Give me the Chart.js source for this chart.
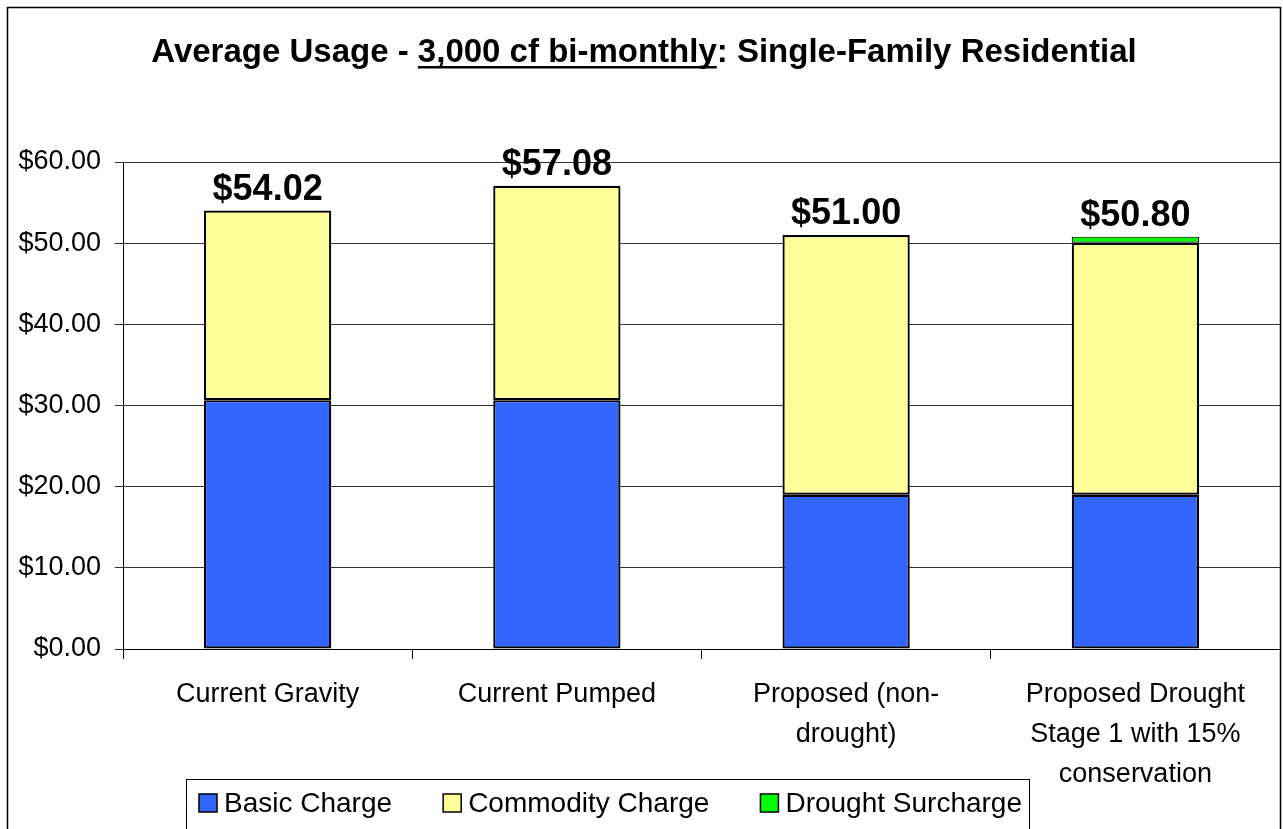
<!DOCTYPE html>
<html>
<head>
<meta charset="utf-8">
<script src="https://cdn.jsdelivr.net/npm/chart.js@4/dist/chart.umd.min.js"></script>
<style>
  body { margin: 0; background: #fff; }
  canvas { display: block; }
</style>
</head>
<body>
<canvas id="chart" width="1283" height="829"></canvas>
<script>
// categories and series
const categories = [
  ['Current Gravity'],
  ['Current Pumped'],
  ['Proposed (non-', 'drought)'],
  ['Proposed Drought', 'Stage 1 with 15%', 'conservation']
];
const basicCharge = [30.66, 30.66, 19.00, 19.00];
const commodityCharge = [23.36, 26.42, 32.00, 31.05];
const droughtSurcharge = [0, 0, 0, 0.75];
const yTicks = [0, 10, 20, 30, 40, 50, 60];

const FONT = 'Arial, "Liberation Sans", sans-serif';

// frame, title with underlined part, custom legend box
const decor = {
  id: 'decor',
  beforeDraw(chart) {
    const ctx = chart.ctx;
    ctx.save();
    ctx.fillStyle = '#fff';
    ctx.fillRect(0, 0, chart.width, chart.height);
    ctx.strokeStyle = '#000';
    ctx.lineWidth = 1.5;
    ctx.strokeRect(7.5, 7.5, 1273, 900);
    ctx.restore();
  },
  afterDraw(chart) {
    const ctx = chart.ctx;
    ctx.save();
    // title
    const parts = ['Average Usage - ', '3,000 cf bi-monthly', ': Single-Family Residential'];
    ctx.font = 'bold 33px ' + FONT;
    ctx.fillStyle = '#000';
    ctx.textBaseline = 'alphabetic';
    const widths = parts.map(p => ctx.measureText(p).width);
    const total = widths.reduce((a, b) => a + b, 0);
    let x = 644 - total / 2;
    const base = 62;
    parts.forEach((p, i) => {
      ctx.fillText(p, x, base);
      if (i === 1) {
        ctx.fillRect(x, base + 4, widths[i], 2.5);
      }
      x += widths[i];
    });

    // legend: items spread between 199 and 1022
    ctx.strokeStyle = '#000';
    ctx.lineWidth = 1;
    ctx.strokeRect(186.5, 779.5, 843, 80);
    ctx.font = '28px ' + FONT;
    ctx.textBaseline = 'middle';
    const dsets = chart.data.datasets;
    const textW = dsets.map(ds => ctx.measureText(ds.label).width);
    const used = textW.reduce((a, b) => a + b, 0) + dsets.length * 25;
    const gap = (1022 - 199 - used) / (dsets.length - 1);
    let lx = 199;
    const ly = 803;
    dsets.forEach((ds, i) => {
      ctx.fillStyle = ds.backgroundColor;
      ctx.fillRect(lx, ly - 9, 18, 18);
      ctx.lineWidth = 1.5;
      ctx.strokeRect(lx, ly - 9, 18, 18);
      ctx.fillStyle = '#000';
      ctx.fillText(ds.label, lx + 25, ly + 1);
      lx += 25 + textW[i] + gap;
    });

    // totals above bars
    const yScale = chart.scales.y;
    const meta = chart.getDatasetMeta(0);
    ctx.font = 'bold 36px ' + FONT;
    ctx.textAlign = 'center';
    ctx.textBaseline = 'alphabetic';
    categories.forEach((c, i) => {
      const sum = basicCharge[i] + commodityCharge[i] + droughtSurcharge[i];
      const px = meta.data[i].x;
      const py = yScale.getPixelForValue(sum);
      ctx.fillText('$' + sum.toFixed(2), px, py - 11);
    });
    ctx.restore();
  }
};

new Chart(document.getElementById('chart'), {
  type: 'bar',
  data: {
    labels: categories,
    datasets: [
      { label: 'Basic Charge', data: basicCharge, backgroundColor: '#3366FF' },
      { label: 'Commodity Charge', data: commodityCharge, backgroundColor: '#FFFF99' },
      { label: 'Drought Surcharge', data: droughtSurcharge, backgroundColor: '#00FF00', borderWidth: 1.2 }
    ]
  },
  options: {
    responsive: false,
    animation: false,
    devicePixelRatio: 1,
    layout: { padding: { left: 0, top: 162, right: 3, bottom: 0 } },
    datasets: {
      bar: {
        borderColor: '#000',
        borderWidth: 2.2,
        borderSkipped: false,
        categoryPercentage: 1,
        barPercentage: 0.44
      }
    },
    plugins: {
      legend: { display: false },
      title: { display: false },
      tooltip: { enabled: false }
    },
    scales: {
      x: {
        stacked: true,
        grid: { drawOnChartArea: false, offset: true, tickLength: 10, color: '#000' },
        border: { display: true, color: '#000', width: 1 },
        ticks: {
          color: '#000',
          font: { family: FONT, size: 27, lineHeight: 1.48 },
          padding: 16,
          maxRotation: 0,
          autoSkip: false
        },
        afterFit(scale) { scale.height = 180; }
      },
      y: {
        stacked: true,
        min: 0,
        max: 60,
        afterBuildTicks(scale) {
          scale.ticks = yTicks.map(v => ({ value: v }));
        },
        grid: { color: '#333', lineWidth: 1, tickLength: 8 },
        border: { display: true, color: '#000', width: 1 },
        ticks: {
          color: '#000',
          font: { family: FONT, size: 27 },
          padding: 14,
          callback: v => '$' + Number(v).toFixed(2)
        },
        afterFit(scale) { scale.width = 123; }
      }
    }
  },
  plugins: [decor]
});
</script>
</body>
</html>
